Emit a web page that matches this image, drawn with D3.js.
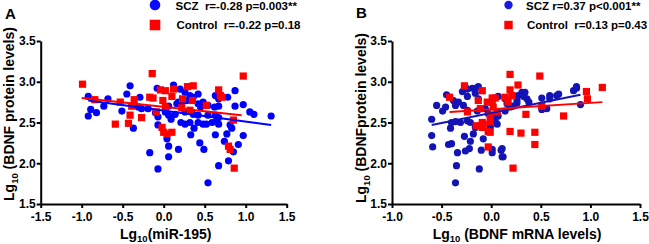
<!DOCTYPE html>
<html>
<head>
<meta charset="utf-8">
<script src="https://cdn.jsdelivr.net/npm/d3@7"></script>
<style>
html,body{margin:0;padding:0;background:#fff;}
svg{display:block;font-family:"Liberation Sans",Arial,sans-serif;font-weight:bold;}
</style>
</head>
<body>
<svg id="chart" width="649" height="244"></svg>
<script>
// ---------- data ----------
const yTicks = [1.5, 2.0, 2.5, 3.0, 3.5];
const xTicksA = [-1.5, -1.0, -0.5, 0.0, 0.5, 1.0, 1.5];
const xTicksB = [-1.0, -0.5, 0.0, 0.5, 1.0, 1.5];

const panelLabels = ["A", "B"];
const xTitlesMain = ["Lg", "Lg"];
const xTitlesRest = ["(miR-195)", " (BDNF mRNA levels)"];
const yTitlesRest = [" (BDNF protein levels)", " (BDNFprotein levels)"];
const legendA = ["SCZ  r=-0.28 p=0.003**", "Control  r=-0.22 p=0.18"];
const legendB = ["SCZ r=0.37 p<0.001**", "Control  r=0.13 p=0.43"];

// Panel A: x = Lg10(miR-195), y = Lg10(BDNF protein)
const sczA = [[-0.92,2.82],[-0.89,2.66],[-0.92,2.58],[-0.82,2.62],[-0.73,2.70],[-0.68,2.79],[-0.51,2.64],[-0.45,2.85],[-0.41,2.95],[-0.37,2.43],[-0.29,2.81],[-0.31,2.69],[-0.27,2.67],[-0.19,2.67],[-0.08,2.92],[-0.07,2.57],[0.12,2.96],[-0.17,2.13],[-0.07,1.93],[0.06,2.21],[0.06,2.08],[0.04,2.30],[0.18,2.17],[0.09,2.54],[0.02,2.63],[0.06,2.59],[0.16,2.73],[0.22,2.75],[0.20,2.91],[0.26,2.87],[0.32,2.83],[0.36,2.81],[0.42,2.85],[0.42,2.73],[0.48,2.75],[0.54,2.71],[0.36,2.60],[0.42,2.59],[0.54,2.59],[0.26,2.63],[0.21,2.50],[0.26,2.48],[0.32,2.50],[0.42,2.50],[0.52,2.48],[0.59,2.50],[0.67,2.56],[0.33,2.35],[0.37,2.43],[0.44,2.25],[0.49,2.17],[0.54,1.76],[0.67,1.97],[0.79,2.03],[0.85,2.14],[0.91,2.23],[0.74,2.27],[0.63,2.35],[0.77,2.36],[0.81,2.47],[0.83,2.43],[0.97,2.34],[0.67,2.48],[0.62,2.69],[0.67,2.70],[0.63,2.59],[0.65,2.54],[0.63,2.83],[0.67,2.79],[0.78,2.81],[0.87,2.89],[0.87,2.70],[0.97,2.72],[1.05,2.63],[1.10,2.60],[1.31,2.58],[0.48,2.48],[0.18,2.75],[0.28,2.77],[0.45,2.69],[0.06,2.70],[-0.07,2.47],[0.14,2.60],[-0.10,2.62]];
const controlA = [[-0.99,2.97],[-0.14,3.10],[-0.84,2.78],[-0.53,2.75],[-0.36,2.78],[-0.39,2.70],[-0.41,2.59],[-0.59,2.48],[-0.43,2.49],[-0.27,2.56],[-0.17,2.81],[-0.13,2.80],[-0.04,2.90],[0.02,2.89],[-0.01,2.77],[-0.09,2.63],[0.10,2.82],[0.12,2.91],[0.23,2.79],[0.29,2.94],[0.36,2.95],[0.35,2.77],[0.32,2.65],[0.22,2.68],[0.52,2.71],[0.67,2.90],[0.71,2.81],[0.97,3.07],[0.85,2.53],[-0.02,2.44],[0.00,2.38],[0.04,2.36],[0.10,2.38],[0.79,2.21],[0.81,2.17],[0.86,1.94],[0.02,2.69],[0.69,2.83]];
const fitSczA = [[-0.92,2.77],[1.31,2.47]];
const fitControlA = [[-1.00,2.80],[0.95,2.59]];

// Panel B: x = Lg10(BDNF mRNA), y = Lg10(BDNF protein)
const sczB = [[-0.60,2.54],[-0.60,2.34],[-0.59,2.20],[-0.55,2.71],[-0.49,2.64],[-0.46,2.69],[-0.45,2.84],[-0.43,2.23],[-0.40,2.24],[-0.41,2.43],[-0.38,2.77],[-0.36,2.71],[-0.33,2.75],[-0.34,2.13],[-0.35,1.97],[-0.36,1.76],[-0.29,2.88],[-0.28,2.71],[-0.24,2.65],[-0.31,2.50],[-0.24,2.52],[-0.26,2.15],[-0.27,2.33],[-0.21,2.27],[-0.22,2.18],[-0.19,2.92],[-0.13,2.94],[-0.16,2.86],[-0.13,2.79],[-0.18,2.36],[-0.16,2.44],[-0.12,1.93],[-0.10,2.16],[-0.08,2.30],[-0.06,2.67],[-0.03,2.61],[0.01,2.57],[0.01,2.13],[-0.21,2.50],[-0.14,2.64],[0.10,2.16],[0.11,2.08],[-0.01,2.44],[0.06,2.48],[0.07,2.82],[0.14,2.79],[0.16,2.73],[0.27,2.83],[0.31,2.87],[0.34,2.87],[0.36,2.79],[0.38,2.75],[0.26,2.74],[0.22,2.70],[0.51,2.80],[0.59,2.83],[0.59,2.79],[0.66,2.83],[0.68,2.85],[0.56,2.67],[0.83,2.89],[0.86,2.94],[0.86,2.92],[0.90,2.72],[0.14,2.64],[0.19,2.69],[0.07,2.58],[0.04,2.52],[-0.01,2.47],[0.11,2.18],[0.12,2.08],[0.01,2.17],[-0.40,2.50],[-0.36,2.51],[-0.26,2.93],[-0.24,2.91],[-0.16,2.92],[-0.24,2.82],[0.26,2.78],[0.33,2.82],[0.51,2.66]];
const controlB = [[-0.27,2.95],[-0.42,2.81],[-0.09,2.89],[-0.24,2.63],[-0.13,2.77],[-0.11,2.67],[-0.04,2.75],[0.01,2.80],[-0.09,2.50],[-0.15,2.46],[-0.09,2.44],[-0.03,2.39],[-0.03,2.20],[-0.01,2.51],[-0.08,2.48],[0.19,3.09],[0.49,3.07],[0.27,2.96],[0.19,2.90],[0.21,2.83],[0.14,2.81],[0.17,2.75],[0.04,2.80],[0.01,2.75],[0.02,2.69],[0.06,2.63],[-0.01,2.59],[0.96,2.88],[1.12,2.93],[0.97,2.79],[0.51,2.70],[0.35,2.60],[0.73,2.58],[0.19,2.39],[0.30,2.37],[0.44,2.38],[0.44,2.23],[0.22,1.94],[-0.01,2.38]];
const fitSczB = [[-0.60,2.47],[0.90,2.84]];
const fitControlB = [[-0.42,2.63],[1.12,2.75]];

// ---------- drawing ----------
const svg = d3.select("#chart");
const fmt = v => d3.format(".1f")(v).replace("\u2212", "-");

function panel(opt) {
  const x = d3.scaleLinear().domain([opt.xTicks[0], opt.xTicks[opt.xTicks.length - 1]]).range(opt.xRange);
  const y = d3.scaleLinear().domain([yTicks[0], yTicks[yTicks.length - 1]]).range([204, 41]);
  const g = svg.append("g");

  // points
  g.append("g").selectAll("circle").data(opt.scz).join("circle")
    .attr("cx", d => x(d[0])).attr("cy", d => y(d[1])).attr("r", 3.6)
    .attr("fill", opt.blue);
  g.append("g").selectAll("rect").data(opt.control).join("rect")
    .attr("x", d => x(d[0]) - 3.6).attr("y", d => y(d[1]) - 3.6)
    .attr("width", 7.2).attr("height", 7.2).attr("fill", "#ff0000");

  const line = d3.line().x(d => x(d[0])).y(d => y(d[1]));
  g.append("path").datum(opt.fitScz).attr("d", line).attr("stroke", opt.blue).attr("stroke-width", 2).attr("fill", "none");
  g.append("path").datum(opt.fitControl).attr("d", line).attr("stroke", "#ff0000").attr("stroke-width", 2).attr("fill", "none");

  // axes
  const ax = g.append("g").attr("transform", `translate(0,${y.range()[0]})`)
    .call(d3.axisBottom(x).tickValues(opt.xTicks).tickFormat(fmt).tickSize(4).tickPadding(4).tickSizeOuter(0));
  const ay = g.append("g").attr("transform", `translate(${x.range()[0]},0)`)
    .call(d3.axisLeft(y).tickValues(yTicks).tickFormat(fmt).tickSize(4).tickPadding(1).tickSizeOuter(0));
  [ax, ay].forEach(a => {
    a.select(".domain").attr("stroke", "#000").attr("stroke-width", 2);
    a.selectAll(".tick line").attr("stroke", "#000").attr("stroke-width", 2);
    a.selectAll(".tick text").attr("fill", "#000").style("font-size", "12px").style("font-weight", "bold")
      .style("font-family", '"Liberation Sans",Arial,sans-serif');
  });

  // x title
  const xc = (x.range()[0] + x.range()[1]) / 2;
  const xt = g.append("text").attr("x", xc + opt.xTitleShift).attr("y", 238.5).attr("text-anchor", "middle")
    .style("font-size", "14px").attr("fill", "#000").attr("xml:space", "preserve");
  xt.append("tspan").text(opt.xMain);
  xt.append("tspan").attr("dy", 3).style("font-size", "9.5px").text("10");
  xt.append("tspan").attr("dy", -3).text(opt.xRest);

  // y title
  const yt = g.append("text").attr("transform", `translate(${opt.yTitleX},${opt.yTitleY}) rotate(-90)`)
    .attr("text-anchor", "middle").style("font-size", "14px").attr("fill", "#000").attr("xml:space", "preserve");
  yt.append("tspan").text("Lg");
  yt.append("tspan").attr("dy", 4).style("font-size", "9.5px").text("10");
  yt.append("tspan").attr("dy", -4).text(opt.yRest);

  // panel letter
  g.append("text").attr("x", opt.letterX).attr("y", opt.letterY).style("font-size", "15px").attr("fill", "#000").text(opt.letter);

  // legend
  const lg = g.append("g");
  lg.append("circle").attr("cx", opt.legX).attr("cy", opt.legCircleY).attr("r", opt.legR).attr("fill", opt.legBlue);
  lg.append("rect").attr("x", opt.legX - opt.legR).attr("y", 25 - opt.legR).attr("width", opt.legR * 2).attr("height", opt.legR * 2).attr("fill", "#ff0000");
  lg.append("text").attr("x", opt.legTextX).attr("y", 10).style("font-size", "11.5px").attr("fill", "#000")
    .attr("xml:space", "preserve").text(opt.legend[0]);
  lg.append("text").attr("x", opt.legTextX + 1).attr("y", 29).style("font-size", "11.5px").attr("fill", "#000")
    .attr("xml:space", "preserve").text(opt.legend[1]);
}

panel({
  xTicks: xTicksA, xRange: [40.7, 286.7], scz: sczA, control: controlA,
  fitScz: fitSczA, fitControl: fitControlA, blue: "#0000ff", legBlue: "#0a0aff",
  xMain: xTitlesMain[0], xRest: xTitlesRest[0], yRest: yTitlesRest[0], xTitleShift: 2,
  yTitleX: 14, yTitleY: 114, letter: panelLabels[0], letterX: 5, letterY: 19,
  legend: legendA, legX: 155, legCircleY: 5, legR: 5.3, legTextX: 175.5
});
panel({
  xTicks: xTicksB, xRange: [392, 640], scz: sczB, control: controlB,
  fitScz: fitSczB, fitControl: fitControlB, blue: "#1414b4", legBlue: "#1a1ae0",
  xMain: xTitlesMain[1], xRest: xTitlesRest[1], yRest: yTitlesRest[1], xTitleShift: 1,
  yTitleX: 366, yTitleY: 118, letter: panelLabels[1], letterX: 356, letterY: 17.5,
  legend: legendB, legX: 508.5, legCircleY: 5, legR: 4.2, legTextX: 526
});
</script>
</body>
</html>
